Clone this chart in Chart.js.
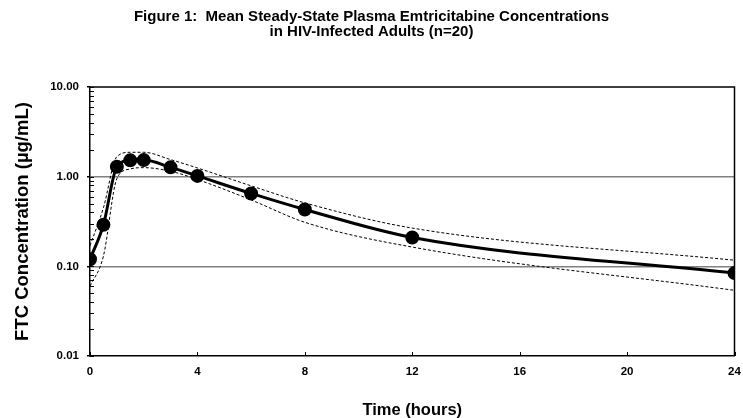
<!DOCTYPE html>
<html>
<head>
<meta charset="utf-8">
<script src="https://cdn.jsdelivr.net/npm/chart.js@4"></script>
<style>
  html, body { margin: 0; padding: 0; background: #fff; }
  #wrap { width: 743px; height: 418px; }
</style>
</head>
<body>
<div id="wrap"><canvas id="grafico"></canvas></div>
<script>
// tempos (h) e concentracoes medias de FTC (ug/mL)
const horas = [0, 0.5, 1, 1.5, 2, 3, 4, 6, 8, 12, 24];
const media = [0.12, 0.29, 1.29, 1.52, 1.53, 1.27, 1.02, 0.65, 0.43, 0.21, 0.084];
const limiteSuperior = [0.17, 0.45, 1.67, 1.87, 1.87, 1.55, 1.25, 0.79, 0.51, 0.267, 0.117];
const limiteInferior = [0.06, 0.13, 0.95, 1.22, 1.26, 1.15, 0.93, 0.55, 0.31, 0.164, 0.054];
const ticksX = [0, 4, 8, 12, 16, 20, 24];
const ticksYMaiores = [0.01, 0.1, 1, 10];

const fonte = 'Liberation Sans, Arial, sans-serif';

function pontos(valores) {
    return horas.map((h, i) => ({ x: h, y: valores[i] }));
}

// todos os ticks do eixo log (maiores + menores)
const ticksYTodos = [];
ticksYMaiores.slice(0, -1).forEach(d => {
    for (let k = 1; k < 10; k++) ticksYTodos.push(+(d * k).toPrecision(3));
});
ticksYTodos.push(10);

function ehMaior(v) {
    return ticksYMaiores.some(m => Math.abs(m - v) < 1e-9);
}

// moldura (topo e direita) + tracinhos para dentro da area do grafico
const tracosInternos = {
    id: 'tracosInternos',
    afterDatasetsDraw(chart) {
        const ctx = chart.ctx;
        const a = chart.chartArea;
        const sx = chart.scales.x, sy = chart.scales.y;
        ctx.save();
        ctx.strokeStyle = '#000';
        ctx.lineWidth = 1;
        ctx.beginPath();
        ticksX.forEach(t => {
            const px = Math.round(sx.getPixelForValue(t)) + 0.5;
            ctx.moveTo(px, a.bottom);
            ctx.lineTo(px, a.bottom - 4);
        });
        ticksYTodos.forEach(t => {
            const py = Math.round(sy.getPixelForValue(t)) + 0.5;
            ctx.moveTo(a.left, py);
            ctx.lineTo(a.left + 4, py);
        });
        ctx.stroke();
        ctx.lineWidth = 1.5;
        ctx.beginPath();
        ctx.moveTo(a.left, a.top);
        ctx.lineTo(a.right, a.top);
        ctx.lineTo(a.right, a.bottom);
        ctx.stroke();
        ctx.restore();
    }
};

const linhaTracejada = {
    borderColor: '#000',
    borderWidth: 1,
    borderDash: [3, 2],
    pointRadius: 0,
    cubicInterpolationMode: 'monotone',
    fill: false
};

new Chart(document.getElementById('grafico'), {
    type: 'line',
    data: {
        datasets: [
            Object.assign({ label: 'Superior', data: pontos(limiteSuperior) }, linhaTracejada),
            Object.assign({ label: 'Inferior', data: pontos(limiteInferior) }, linhaTracejada),
            {
                label: 'Media',
                data: pontos(media),
                borderColor: '#000',
                backgroundColor: '#000',
                borderWidth: 3,
                pointRadius: 5.5,
                pointHoverRadius: 5.5,
                cubicInterpolationMode: 'monotone',
                fill: false
            }
        ]
    },
    options: {
        responsive: true,
        maintainAspectRatio: false,
        animation: false,
        layout: { padding: { top: 2, right: 0, left: 0, bottom: 0 } },
        plugins: {
            legend: { display: false },
            tooltip: { enabled: false },
            title: {
                display: true,
                text: ['Figure 1:  Mean Steady-State Plasma Emtricitabine Concentrations',
                       'in HIV-Infected Adults (n=20)'],
                color: '#000',
                font: { family: fonte, size: 15, weight: 'bold', lineHeight: 1.0 },
                padding: { top: 7, bottom: 48 }
            }
        },
        scales: {
            x: {
                type: 'linear',
                min: 0,
                max: 24,
                afterBuildTicks: s => { s.ticks = ticksX.map(v => ({ value: v })); },
                afterFit: s => { s.height = 62; s.paddingRight = 5; },
                ticks: {
                    color: '#000',
                    font: { family: fonte, size: 11.5, weight: 'bold' },
                    padding: 9,
                    maxRotation: 0
                },
                grid: {
                    drawTicks: false,
                    color: 'rgba(0,0,0,0)'
                },
                border: { color: '#000', width: 1.5 },
                title: {
                    display: true,
                    text: 'Time (hours)',
                    color: '#000',
                    font: { family: fonte, size: 16.5, weight: 'bold', lineHeight: 1.0 },
                    padding: { top: 0, bottom: -1 }
                }
            },
            y: {
                type: 'logarithmic',
                min: 0.01,
                max: 10,
                afterBuildTicks: s => { s.ticks = ticksYTodos.map(v => ({ value: v })); },
                afterFit: s => { s.width = 90; },
                ticks: {
                    color: '#000',
                    font: { family: fonte, size: 11.5, weight: 'bold' },
                    padding: 8,
                    autoSkip: false,
                    callback: v => (ehMaior(v) ? Number(v).toFixed(2) : '')
                },
                grid: {
                    tickLength: 3,
                    lineWidth: 1.5,
                    color: c => {
                        const v = c.tick ? c.tick.value : 0;
                        if (Math.abs(v - 1) < 1e-9 || Math.abs(v - 0.1) < 1e-9) return '#808080';
                        return 'rgba(0,0,0,0)';
                    },
                    tickColor: c => (c.tick && ehMaior(c.tick.value) ? '#000' : 'rgba(0,0,0,0)')
                },
                border: { color: '#000', width: 1.5 },
                title: {
                    display: true,
                    text: 'FTC Concentration (µg/mL)',
                    color: '#000',
                    font: { family: fonte, size: 18.5, weight: 'bold' },
                    padding: { top: 12, bottom: 0 }
                }
            }
        }
    },
    plugins: [tracosInternos]
});
</script>
</body>
</html>
